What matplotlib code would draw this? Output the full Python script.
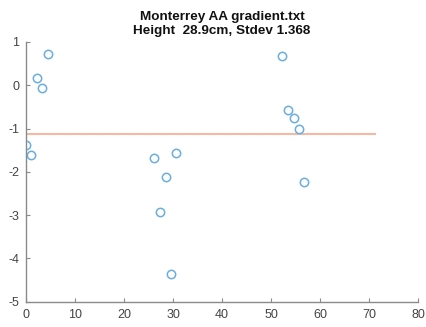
import matplotlib
matplotlib.use("Agg")
import matplotlib.pyplot as plt

# Gradient samples along the run (position, deviation)
positions = [0.0, 1.0, 2.2, 3.2, 4.4, 26.2, 27.4, 28.5, 29.6, 30.6,
             52.3, 53.5, 54.6, 55.7, 56.8]
deviations = [-1.38, -1.62, 0.17, -0.06, 0.73, -1.67, -2.92, -2.13, -4.36, -1.57,
              0.68, -0.57, -0.76, -1.01, -2.24]

# Mean level line
mean_x = [0.0, 71.2]
mean_y = [-1.13, -1.13]

title_lines = ["Monterrey AA gradient.txt", "Height  28.9cm, Stdev 1.368"]
xticks = [0, 10, 20, 30, 40, 50, 60, 70, 80]
yticks = [-5, -4, -3, -2, -1, 0, 1]

plt.rcParams["font.family"] = ["Liberation Sans", "DejaVu Sans"]
plt.rcParams["axes.unicode_minus"] = False

fig = plt.figure(figsize=(4.27, 3.27), dpi=100)
ax = fig.add_axes([0.061, 0.077, 0.918, 0.795])

ax.plot(mean_x, mean_y, color="#F4B9A2", lw=1.5, zorder=1)
ax.plot(positions, deviations, linestyle="none", marker="o", markersize=6,
        markerfacecolor="none", markeredgecolor="#6AAEDF", markeredgewidth=1.1,
        zorder=2)

ax.set_xlim(0, 80)
ax.set_ylim(-5, 1)
ax.set_xticks(xticks)
ax.set_yticks(yticks)

axis_gray = "#8a8a8a"
for side in ("top", "right"):
    ax.spines[side].set_visible(False)
for side in ("left", "bottom"):
    ax.spines[side].set_color(axis_gray)
    ax.spines[side].set_linewidth(1.0)
ax.tick_params(direction="in", length=3, width=0.8, color=axis_gray,
               labelcolor="#444444", labelsize=9, pad=5)

ax.set_title("\n".join(title_lines), fontsize=9.7, fontweight="bold",
             color="#111111", pad=6, linespacing=1.2)

fig.savefig("out.png", dpi=100)
